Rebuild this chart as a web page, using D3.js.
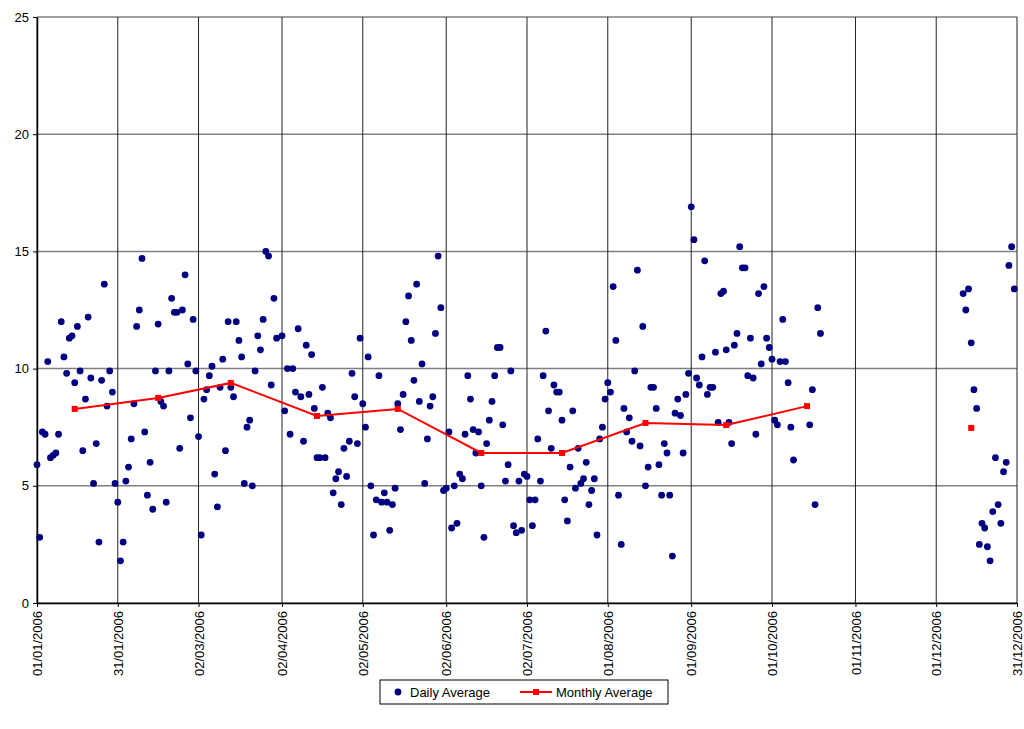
<!DOCTYPE html>
<html>
<head>
<meta charset="utf-8">
<script src="https://cdn.jsdelivr.net/npm/d3@7"></script>
<style>
body { margin: 0; background: #fff; }
text { font-family: "Liberation Sans", Arial, sans-serif; }
</style>
</head>
<body>
<svg id="chart" width="1024" height="729"></svg>
<script>
// day-of-year (0 = 01/01/2006) and daily average values
var dailyDays = [0,1,2,3,4,5,6,7,8,9,10,11,12,13,14,15,16,17,18,19,20,21,22,23,24,25,26,27,28,29,
    30,31,32,33,34,35,36,37,38,39,40,41,42,43,44,45,46,47,48,49,50,51,52,53,54,55,56,57,58,59,
    60,61,62,63,64,65,66,67,68,69,70,71,72,73,74,75,76,77,78,79,80,81,82,83,84,85,86,87,88,89,
    91,92,93,94,95,96,97,98,99,100,101,102,103,104,105,106,107,108,109,110,111,112,113,114,115,116,117,118,119,120,
    121,122,123,124,125,126,127,128,129,130,131,132,133,134,135,136,137,138,139,140,141,142,143,144,145,146,147,148,149,150,
    151,152,153,154,155,156,157,158,159,160,161,162,163,164,165,166,167,168,169,170,171,172,173,174,175,176,177,178,179,180,
    181,182,183,184,185,186,187,188,189,190,191,192,193,194,195,196,197,198,199,200,201,202,203,204,205,206,207,208,209,210,
    211,212,213,214,215,216,217,218,219,220,221,222,223,224,225,226,227,228,229,230,231,232,233,234,235,236,237,238,239,240,
    241,242,243,244,245,246,247,248,249,250,251,252,253,254,255,256,257,258,259,260,261,262,263,264,265,266,267,268,269,270,
    271,272,273,274,275,276,277,278,279,280,281,287,288,289,290,291,
    344,345,346,347,348,349,350,351,352,353,354,355,356,357,358,359,360,361,362,363];
var dailyValues = [5.9,2.8,7.3,7.2,10.3,6.2,6.3,6.4,7.2,12.0,10.5,9.8,11.3,11.4,9.4,11.8,9.9,6.5,8.7,12.2,9.6,5.1,6.8,2.6,9.5,13.6,8.4,9.9,9.0,5.1,
    4.3,1.8,2.6,5.2,5.8,7.0,8.5,11.8,12.5,14.7,7.3,4.6,6.0,4.0,9.9,11.9,8.6,8.4,4.3,9.9,13.0,12.4,12.4,6.6,12.5,14.0,10.2,7.9,12.1,9.9,
    7.1,2.9,8.7,9.1,9.7,10.1,5.5,4.1,9.2,10.4,6.5,12.0,9.2,8.8,12.0,11.2,10.5,5.1,7.5,7.8,5.0,9.9,11.4,10.8,12.1,15.0,14.8,9.3,13.0,11.3,
    11.4,8.2,10.0,7.2,10.0,9.0,11.7,8.8,6.9,11.0,8.9,10.6,8.3,6.2,6.2,9.2,6.2,8.1,7.9,4.7,5.3,5.6,4.2,6.6,5.4,6.9,9.8,8.8,6.8,11.3,
    8.5,7.5,10.5,5.0,2.9,4.4,9.7,4.3,4.7,4.3,3.1,4.2,4.9,8.5,7.4,8.9,12.0,13.1,11.2,9.5,13.6,8.6,10.2,5.1,7.0,8.4,8.8,11.5,14.8,12.6,
    4.8,4.9,7.3,3.2,5.0,3.4,5.5,5.3,7.2,9.7,8.7,7.4,6.4,7.3,5.0,2.8,6.8,7.8,8.6,9.7,10.9,10.9,7.6,5.2,5.9,9.9,3.3,3.0,5.2,3.1,
    5.5,5.4,4.4,3.3,4.4,7.0,5.2,9.7,11.6,8.2,6.6,9.3,9.0,9.0,7.8,4.4,3.5,5.8,8.2,4.9,6.6,5.1,5.3,6.0,4.2,4.8,5.3,2.9,7.0,7.5,
    8.7,9.4,9.0,13.5,11.2,4.6,2.5,8.3,7.3,7.9,6.9,9.9,14.2,6.7,11.8,5.0,5.8,9.2,9.2,8.3,5.9,4.6,6.8,6.4,4.6,2.0,8.1,8.7,8.0,6.4,
    8.9,9.8,16.9,15.5,9.6,9.3,10.5,14.6,8.9,9.2,9.2,10.7,7.7,13.2,13.3,10.8,7.7,6.8,11.0,11.5,15.2,14.3,14.3,9.7,11.3,9.6,7.2,13.2,10.2,13.5,
    11.3,10.9,10.4,7.8,7.6,10.3,12.1,10.3,9.4,7.5,6.1,7.6,9.1,4.2,12.6,11.5,
    13.2,12.5,13.4,11.1,9.1,8.3,2.5,3.4,3.2,2.4,1.8,3.9,6.2,4.2,3.4,5.6,6.0,14.4,15.2,13.4];

// monthly averages (mid-month); December drawn without a connecting line
var monthlyDays = [14,45,72,104,134,165,195,226,256,286];
var monthlyValues = [8.28,8.75,9.39,7.98,8.28,6.40,6.40,7.68,7.59,8.40];
var decDay = 347, decValue = 7.47;

var tickDays = [0,30,60,91,121,152,182,212,243,273,304,334,364];
var tickLabels = ["01/01/2006","31/01/2006","02/03/2006","02/04/2006","02/05/2006","02/06/2006",
    "02/07/2006","01/08/2006","01/09/2006","01/10/2006","01/11/2006","01/12/2006","31/12/2006"];
var yTicks = [0,5,10,15,20,25];

var svg = d3.select("#chart");
var plotLeft = 37, plotRight = 1017, plotTop = 17, plotBottom = 603;

var x = d3.scaleLinear().domain([0,364]).range([plotLeft,plotRight]);
var y = d3.scaleLinear().domain([0,25]).range([plotBottom,plotTop]);

// grid
svg.append("g").selectAll("line").data(yTicks).enter().append("line")
    .attr("x1", plotLeft).attr("x2", plotRight)
    .attr("y1", function(d){ return y(d); }).attr("y2", function(d){ return y(d); })
    .attr("stroke", "#808080").attr("stroke-width", 1.5);
svg.append("g").selectAll("line").data(tickDays).enter().append("line")
    .attr("x1", function(d){ return x(d); }).attr("x2", function(d){ return x(d); })
    .attr("y1", plotTop).attr("y2", plotBottom)
    .attr("stroke", "#222").attr("stroke-width", 1);

// axes
var yAxis = svg.append("g").attr("transform", "translate(" + plotLeft + ",0)")
    .call(d3.axisLeft(y).tickValues(yTicks).tickSize(4).tickSizeOuter(0));
var xAxis = svg.append("g").attr("transform", "translate(0," + plotBottom + ")")
    .call(d3.axisBottom(x).tickValues(tickDays).tickSize(4).tickSizeOuter(0)
        .tickFormat(function(d, i){ return tickLabels[i]; }));
svg.selectAll(".domain").attr("stroke", "#000").attr("stroke-width", 1.5);
yAxis.selectAll("text").attr("font-size", 13).attr("fill", "#000").attr("x", -8);
xAxis.selectAll("text").attr("font-size", 13).attr("fill", "#000")
    .attr("text-anchor", "end").attr("dy", "0.35em")
    .attr("transform", "translate(0,8) rotate(-90)").attr("x", 0).attr("y", 0);

// daily points
svg.append("g").selectAll("circle").data(dailyDays).enter().append("circle")
    .attr("cx", function(d){ return x(d); })
    .attr("cy", function(d, i){ return y(dailyValues[i]); })
    .attr("r", 3.4).attr("fill", "#000080");

// monthly line
var line = d3.line().x(function(d){ return x(d[0]); }).y(function(d){ return y(d[1]); });
var mPts = monthlyDays.map(function(d, i){ return [d, monthlyValues[i]]; });
svg.append("path").datum(mPts).attr("d", line)
    .attr("fill", "none").attr("stroke", "#ff0000").attr("stroke-width", 2);
mPts.push([decDay, decValue]);
svg.append("g").selectAll("rect").data(mPts).enter().append("rect")
    .attr("x", function(d){ return x(d[0]) - 3; })
    .attr("y", function(d){ return y(d[1]) - 3; })
    .attr("width", 6).attr("height", 6).attr("fill", "#ff0000");

// legend
var lg = svg.append("g").attr("transform", "translate(380,680)");
lg.append("rect").attr("width", 288).attr("height", 24)
    .attr("fill", "#fff").attr("stroke", "#000").attr("stroke-width", 1);
lg.append("circle").attr("cx", 18).attr("cy", 12).attr("r", 3.4).attr("fill", "#000080");
lg.append("text").attr("x", 30).attr("y", 16.5).attr("font-size", 13).text("Daily Average");
lg.append("line").attr("x1", 140).attr("x2", 172).attr("y1", 12).attr("y2", 12)
    .attr("stroke", "#ff0000").attr("stroke-width", 2);
lg.append("rect").attr("x", 153).attr("y", 9).attr("width", 6).attr("height", 6).attr("fill", "#ff0000");
lg.append("text").attr("x", 176).attr("y", 16.5).attr("font-size", 13).text("Monthly Average");
</script>
</body>
</html>
